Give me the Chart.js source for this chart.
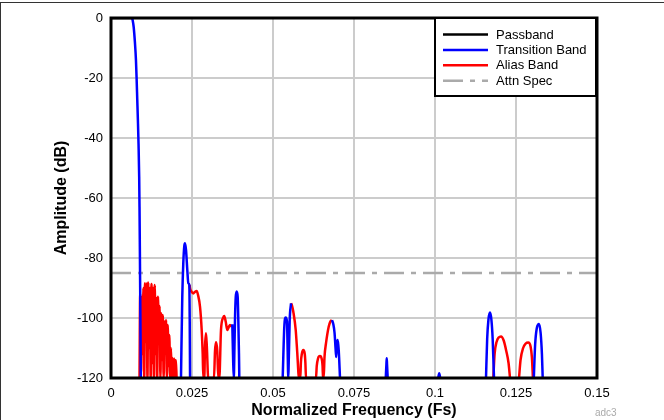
<!DOCTYPE html>
<html><head><meta charset="utf-8">
<script src="https://cdn.jsdelivr.net/npm/chart.js@4.4.0/dist/chart.umd.min.js"></script>
<style>html,body{margin:0;padding:0;background:#fff;overflow:hidden}canvas{display:block}</style>
</head><body>
<canvas id="c" width="664" height="420"></canvas>
<script>
const seriesLabels = ['Passband', 'Transition Band', 'Alias Band', 'Attn Spec'];
const xTickValues = [0, 0.025, 0.05, 0.075, 0.1, 0.125, 0.15];
const xTickLabels = ['0', '0.025', '0.05', '0.075', '0.1', '0.125', '0.15'];
const yTickValues = [0, -20, -40, -60, -80, -100, -120];
const yTickLabels = ['0', '-20', '-40', '-60', '-80', '-100', '-120'];

const passbandF  = [0, 0.002, 0.004, 0.006, 0.0065];
const passbandDb = [0, 0, 0, 0, 0];

const transitionF = [
  0.00657, 0.0070, 0.0074, 0.0077, 0.0079, 0.0081, 0.0083, 0.0085, 0.0087, 0.0088, 0.0089, 0.0090, 0.0091, 0.0092,
  0.015,
  0.0216, 0.0220, 0.02231, 0.02262, 0.02284, 0.02315, 0.02355, 0.02386, 0.02417, 0.02429, 0.0244,
  0.030,
  0.03744, 0.0377, 0.0379, 0.0381, 0.0383, 0.0385, 0.0388, 0.0391, 0.0393, 0.0395, 0.0396,
  0.045,
  0.05299, 0.05349, 0.05392, 0.05432, 0.0545, 0.05472, 0.05485, 0.05515, 0.05556,
  0.060,
  0.06821, 0.0686, 0.0690, 0.0693, 0.0695, 0.0697, 0.0700, 0.0703, 0.07068,
  0.078,
  0.0848, 0.0850, 0.0851, 0.0852, 0.0854,
  0.093,
  0.1010, 0.1013, 0.1016,
  0.108,
  0.11574, 0.1161, 0.1165, 0.11698, 0.1174, 0.1178, 0.11821,
  0.124,
  0.1305, 0.1309, 0.1314, 0.1321, 0.1326, 0.1330, 0.13324
];
const transitionDb = [
  0, -3, -8.4, -14, -20, -27, -34, -42, -53, -63, -76, -90, -105, -120,
  null,
  -120, -93, -81.8, -76, -75.1, -77.3, -84, -88.4, -89, -100, -120,
  null,
  -102.1, -114, -120, -110, -99, -93, -91.2, -93, -101, -112, -120,
  null,
  -120, -102.9, -99.8, -101.2, -109.6, -120, -115, -100.7, -95.1,
  null,
  -100.7, -102, -105, -110, -113, -108.5, -107.3, -111, -120,
  null,
  -120, -115.5, -113.4, -115.5, -120,
  null,
  -120, -118.4, -120,
  null,
  -120, -107, -100.5, -98.2, -100.5, -107, -120,
  null,
  -120, -109, -103.5, -102, -105, -112, -120
];

const aliasF = [
  0.00880, 0.00900, 0.00925, 0.00950, 0.00975, 0.01000, 0.01025, 0.01050, 0.01075, 0.01100,
  0.01125, 0.01150, 0.01175, 0.01200, 0.01225, 0.01250, 0.01275, 0.01300, 0.01325, 0.01350,
  0.01375, 0.01400, 0.01425, 0.01450, 0.01475, 0.01500, 0.01525, 0.01550, 0.01575, 0.01600,
  0.01625, 0.01650, 0.01675, 0.01700, 0.01725, 0.01750, 0.01775, 0.01800, 0.01825, 0.01850,
  0.01875, 0.01900, 0.01925, 0.01950, 0.01975, 0.02000, 0.02025,
  0.022,
  0.02425, 0.02438, 0.0249, 0.0254, 0.0259, 0.02645, 0.0269, 0.02747, 0.02799, 0.0283, 0.0285,
  0.0288, 0.0290, 0.02932, 0.0296, 0.0300,
  0.03179, 0.0321, 0.03241, 0.0328, 0.03312,
  0.03343, 0.03395, 0.03466, 0.03497, 0.0354, 0.0359, 0.0364, 0.03673, 0.0373,
  0.045,
  0.05556, 0.0559, 0.05627, 0.05701, 0.0575, 0.05802,
  0.05843, 0.0586, 0.0589, 0.05936, 0.0598, 0.0600, 0.06019,
  0.06327, 0.0635, 0.0639, 0.06451, 0.0650, 0.0653, 0.06543,
  0.06564, 0.0659, 0.06636, 0.06719, 0.0677, 0.06821,
  0.09,
  0.1180, 0.1184, 0.1190, 0.12037, 0.1212, 0.1220, 0.1227, 0.12315,
  0.1245,
  0.12593, 0.1264, 0.1272, 0.1280, 0.1288, 0.1295, 0.1299, 0.13022
];
const aliasDb = [
  -120, -92, -118, -93, -112, -90, -120, -88.4, -108, -88.5,
  -120, -88.2, -110, -90, -120, -88.7, -115, -90, -120, -89,
  -112, -93.3, -120, -92.9, -108, -96, -120, -98.4, -114, -99,
  -120, -101.2, -112, -100.7, -120, -102.3, -116, -105.7, -120, -110,
  -120, -113.3, -120, -113.5, -120, -114, -120,
  null,
  -89, -90.1, -91.3, -91.8, -91.3, -91, -92.5, -96.2, -104, -112, -120,
  -120, -110, -105.1, -110, -120,
  -120, -111, -108.1, -111, -120,
  -120, -104, -99.8, -99.3, -101.2, -104, -102.9, -102.3, -103,
  null,
  -95.1, -96, -97.9, -104, -111.8, -120,
  -120, -115, -112, -110.7, -112, -115, -120,
  -120, -116, -113.5, -112.7, -113.5, -116, -120,
  -120, -113, -108.4, -102.9, -101.2, -100.7,
  null,
  -120, -112, -108, -106.2, -107.5, -111, -115, -120,
  null,
  -120, -114, -110, -108.5, -108.2, -109.5, -113, -120
];

const attnF  = [0, 0.15];
const attnDb = [-85, -85];

const seriesColors = ['#000000', '#0000ff', '#ff0000', '#aaaaaa'];
const attnDash = [20, 7, 5, 7];

function pts(fs, ds) { return fs.map((f, i) => ({ x: f, y: ds[i] })); }

const FONT = '"Liberation Sans", Arial, Helvetica, sans-serif';

const decor = {
  id: 'decor',
  afterDraw(chart) {
    const ctx = chart.ctx, a = chart.chartArea;
    ctx.save();
    ctx.strokeStyle = '#000';
    ctx.lineWidth = 3;
    ctx.setLineDash([]);
    ctx.strokeRect(a.left, a.top, a.right - a.left, a.bottom - a.top);
    const lw = 161, lh = 78;
    const lx = a.right - lw - 1, ly = a.top;
    ctx.fillStyle = '#fff';
    ctx.fillRect(lx, ly, lw, lh);
    ctx.lineWidth = 2;
    ctx.strokeRect(lx, ly, lw, lh);
    ctx.font = '13px ' + FONT;
    ctx.textBaseline = 'middle';
    ctx.textAlign = 'left';
    chart.data.datasets.forEach((ds, i) => {
      const y = ly + 16.5 + i * 15.4;
      ctx.strokeStyle = ds.borderColor;
      ctx.lineWidth = 2.5;
      ctx.setLineDash(ds.borderDash || []);
      ctx.beginPath();
      ctx.moveTo(lx + 8, y);
      ctx.lineTo(lx + 53, y);
      ctx.stroke();
      ctx.setLineDash([]);
      ctx.fillStyle = '#000';
      ctx.fillText(ds.label, lx + 61, y + 0.5);
    });
    ctx.strokeStyle = '#333';
    ctx.lineWidth = 1;
    ctx.beginPath();
    ctx.moveTo(0, 2.5); ctx.lineTo(664, 2.5);
    ctx.moveTo(0.5, 2); ctx.lineTo(0.5, 420);
    ctx.stroke();
    ctx.font = '10px ' + FONT;
    ctx.fillStyle = '#aaaaaa';
    ctx.textBaseline = 'alphabetic';
    ctx.fillText('adc3', 595, 416);
    ctx.restore();
  }
};

const common = { fill: false, pointRadius: 0, borderWidth: 2.5, spanGaps: false };

new Chart(document.getElementById('c'), {
  type: 'line',
  data: {
    datasets: [
      { ...common, label: seriesLabels[0], data: pts(passbandF, passbandDb), borderColor: seriesColors[0] },
      { ...common, label: seriesLabels[1], data: pts(transitionF, transitionDb), borderColor: seriesColors[1], cubicInterpolationMode: 'monotone' },
      { ...common, label: seriesLabels[2], data: pts(aliasF, aliasDb), borderColor: seriesColors[2], cubicInterpolationMode: 'monotone' },
      { ...common, label: seriesLabels[3], data: pts(attnF, attnDb), borderColor: seriesColors[3], borderDash: attnDash }
    ]
  },
  options: {
    responsive: false,
    animation: false,
    events: [],
    layout: { padding: { top: 18, right: 67, left: 0, bottom: 0 } },
    plugins: { legend: { display: false }, tooltip: { enabled: false } },
    scales: {
      x: {
        type: 'linear', min: 0, max: 0.15,
        afterBuildTicks: s => { s.ticks = xTickValues.map(v => ({ value: v })); },
        afterFit: s => { s.height = 42; },
        ticks: {
          padding: 8, color: '#000', font: { family: FONT, size: 13 },
          maxRotation: 0, autoSkip: false,
          callback: v => xTickLabels[xTickValues.indexOf(v)]
        },
        grid: { color: '#cccccc', lineWidth: 2, drawTicks: false },
        border: { display: false },
        title: { display: true, text: 'Normalized Frequency (Fs)', color: '#000',
                 font: { family: FONT, size: 16, weight: 'bold' }, padding: { top: 0, bottom: 0 } }
      },
      y: {
        type: 'linear', min: -120, max: 0,
        afterBuildTicks: s => { s.ticks = yTickValues.slice().reverse().map(v => ({ value: v })); },
        afterFit: s => { s.width = 111; },
        ticks: {
          padding: 8, color: '#000', font: { family: FONT, size: 13 },
          autoSkip: false,
          callback: v => yTickLabels[yTickValues.indexOf(v)]
        },
        grid: { color: '#cccccc', lineWidth: 2, drawTicks: false },
        border: { display: false },
        title: { display: true, text: 'Amplitude (dB)', color: '#000',
                 font: { family: FONT, size: 16, weight: 'bold' }, padding: { top: 52, bottom: 0 } }
      }
    }
  },
  plugins: [decor]
});
</script>
</body></html>
